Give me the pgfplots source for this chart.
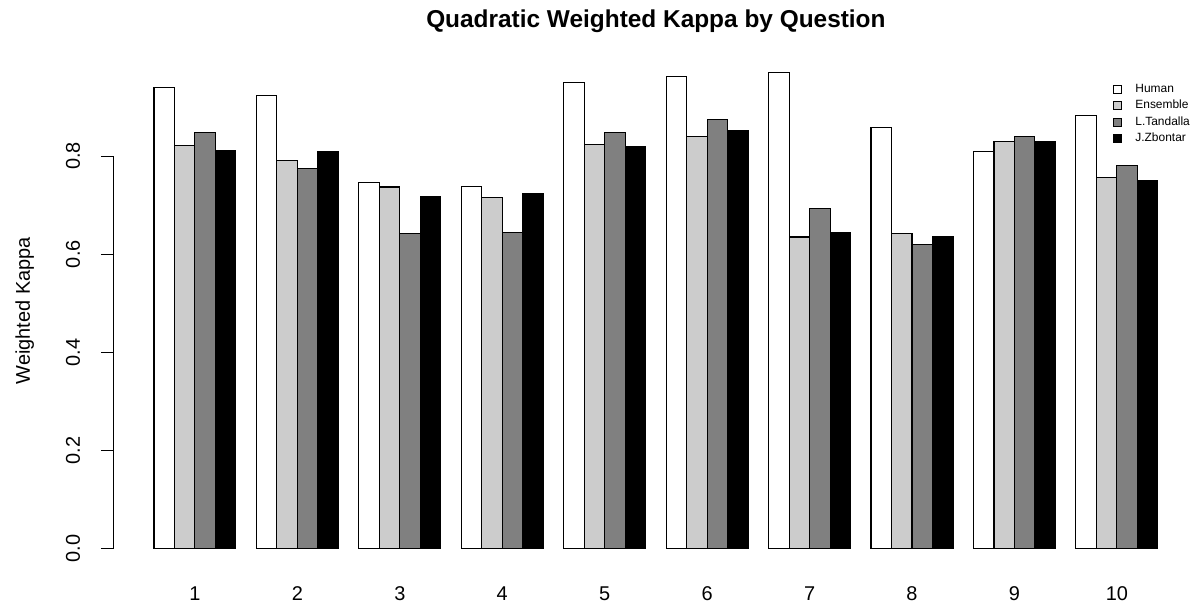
\documentclass[border=0pt]{standalone}
\usepackage{pgfplots}
\pgfplotsset{compat=1.18}
\usepackage{fontspec}
\setmainfont{Liberation Sans}

\definecolor{ensemble}{gray}{0.8}
\definecolor{tandalla}{gray}{0.5}

\pgfplotsset{
  sqlegend/.style={
    legend image code/.code={
      \draw[##1, draw=black, line width=1bp] (0bp,-4bp) rectangle (8bp,4bp);
    },
  },
  kbar/.style={ybar, bar width=1, bar shift=0pt, draw=black, line width=1.1bp, sqlegend},
}

\begin{document}
\begin{tikzpicture}[x=1bp,y=1bp]
  \begin{axis}[
      at={(113.8bp,37.3bp)},
      anchor=south west,
      scale only axis,
      width  = 1084.2bp,
      height = 514.1bp,
      xmin   = -0.96,
      xmax   = 51.96,
      ymin   = -0.0388,
      ymax   = 1.0088,
      clip   = false,
      axis lines* = left,
      x axis line style = {draw=none},
      y axis line style = {draw=none},
      xtick  = {3,8,...,48},
      xticklabels = {1,2,3,4,5,6,7,8,9,10},
      ytick  = {0,0.2,0.4,0.6,0.8},
      yticklabels = {0.0,0.2,0.4,0.6,0.8},
      tick align = outside,
      major tick length = 13bp,
      xtick style = {draw=none},
      ytick style = {draw=black, line width=1.1bp},
      tick label style = {font=\fontsize{20}{24}\selectfont},
      /pgf/number format/assume math mode=true,
      yticklabel style = {xshift=-21bp, rotate=90, anchor=base},
      xticklabel style = {yshift=-20bp, anchor=base},
      ylabel = {Weighted Kappa},
      ylabel style = {at={(axis description cs:-0.0775,0.5)}, anchor=base,
                      font=\fontsize{20}{24}\selectfont},
      title  = {Quadratic Weighted Kappa by Question},
      title style = {at={(axis description cs:0.5,1.0517)}, anchor=base, yshift=-6pt,
                     font=\bfseries\fontsize{24.5}{29}\selectfont},
      legend cell align = left,
      legend style = {
        draw=none, fill=none,
        at={(0.9213,0.9461)}, anchor=north west,
        inner sep=0pt, row sep=0pt, column sep=13.5bp,
        font=\fontsize{12}{14}\selectfont,
        nodes={inner sep=0pt, text height=11bp, text depth=5.3bp},
      },
    ]

    \addplot[kbar, fill=white] coordinates {
      (1.5,0.939) (6.5,0.923) (11.5,0.746) (16.5,0.738) (21.5,0.950)
      (26.5,0.962) (31.5,0.970) (36.5,0.858) (41.5,0.810) (46.5,0.883)};
    \addplot[kbar, fill=ensemble] coordinates {
      (2.5,0.821) (7.5,0.791) (12.5,0.737) (17.5,0.715) (22.5,0.823)
      (27.5,0.839) (32.5,0.635) (37.5,0.643) (42.5,0.829) (47.5,0.756)};
    \addplot[kbar, fill=tandalla] coordinates {
      (3.5,0.848) (8.5,0.774) (13.5,0.642) (18.5,0.645) (23.5,0.848)
      (28.5,0.875) (33.5,0.693) (38.5,0.619) (43.5,0.839) (48.5,0.780)};
    \addplot[kbar, fill=black] coordinates {
      (4.5,0.812) (9.5,0.810) (14.5,0.717) (19.5,0.723) (24.5,0.819)
      (29.5,0.852) (34.5,0.645) (39.5,0.636) (44.5,0.829) (49.5,0.750)};
    \legend{Human, Ensemble, L.Tandalla, J.Zbontar}

    % y axis line only spans the ticks, as in R
    \draw[line width=1.1bp] (axis cs:-0.96,0) -- (axis cs:-0.96,0.8);
  \end{axis}
  \pgfresetboundingbox
  \useasboundingbox (0,0) rectangle (1196,605);
\end{tikzpicture}
\end{document}
